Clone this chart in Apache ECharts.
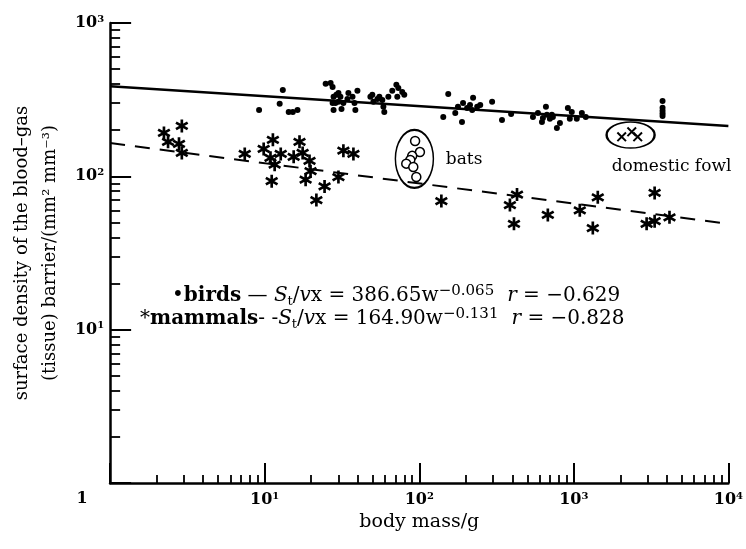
<!DOCTYPE html>
<html><head><meta charset="utf-8">
<script src="https://cdn.jsdelivr.net/npm/echarts@6/dist/echarts.min.js"></script>
<style>html,body{margin:0;padding:0;background:#fff}#c{width:746px;height:549px}</style>
</head><body><div id="c"></div>
<script>
// ---- data ----
const birdMass = [9.2,13.1,12.5,14.3,15.2,16.3,24.8,26.7,27.5,27.9,
  29.1,30.0,30.9,27.5,28.7,30.0,32.3,34.3,34.8,37.0,
  38.1,39.8,38.6,27.9,31.4,49.7,50.5,53.6,55.2,57.7,
  58.6,59.4,63.1,66.9,71.1,73.2,77.6,80.0,72.1,48.3,
  154,143,171,178,192,189,204,213,220,237,
  248,223,296,343,393,544,586,622,631,660,
  670,700,732,777,813,721,915,970,942,1045,
  1127,1195,3750,3750,3750,3750,3750];
const birdDensity = [271,366,297,263,263,271,401,406,383,330,
  340,350,330,301,301,306,301,320,350,330,
  301,361,271,271,275,340,306,320,330,315,
  284,263,330,361,395,377,355,340,330,330,
  344,244,259,284,301,226,279,292,271,284,
  292,325,306,233,255,244,259,226,240,284,
  252,237,244,207,223,252,279,263,237,237,
  259,244,310,280,268,257,247];
const mammalMass = [2.23,2.37,2.91,2.79,2.91,7.43,9.85,11.3,10.9,11.6,
  12.7,11.1,15.4,16.8,17.6,19.5,19.8,18.4,21.6,24.4,
  30.0,32.3,37.5,139,386,429,410,679,1093,1429,
  1327,3333,2958,3333,4159];
const mammalDensity = [192,168,213,163,142,140,151,173,132,119,
  140,93,134,168,142,126,108,95,70,86,
  99,147,140,69,65,76,49,56,60,73,
  46,78,49,51,54];
const batMass = [94,101,90,87.5,82.4,91.5,95.7];
const batDensity = [170,144,136,128,121,115,99];
const fowlMass = [2040,2370,2590];
const fowlDensity = [181,195,181];
const birdFitMass = [1,10000];
const birdFitDensity = [387,213];
const mammalFitMass = [1,10000];
const mammalFitDensity = [165,49];
const groupNames = ['bats','domestic fowl'];
const groupCenterMass = [93,2330];
const groupCenterDensity = [130,186];
const groupLabelMass = [195,4285];
const groupLabelDensity = [128,115];
const xTickValues = [1,10,100,1000,10000];
const xTickExps = ['', '1','2','3','4'];
const yTickValues = [10,100,1000];
const yTickExps = ['1','2','3'];

// ---- chart ----
const FONT = 'DejaVu Serif';
const zip = (a,b)=>a.map((v,i)=>[v,b[i]]);
const asterisk = 'path://M-0.2,-1L0.2,-1L0.2,1L-0.2,1Z M0.773,-0.673L0.973,-0.327L-0.773,0.673L-0.973,0.327Z M0.973,0.327L0.773,0.673L-0.973,-0.327L-0.773,-0.673Z';
const cross = 'path://M-1,-0.72L-0.72,-1L1,0.72L0.72,1Z M0.72,-1L1,-0.72L-0.72,1L-1,0.72Z';
const tickRich = {
  b:{fontFamily:FONT,fontWeight:'bold',fontSize:16,color:'#000',lineHeight:18},
  s:{fontFamily:FONT,fontWeight:'bold',fontSize:10,color:'#000',verticalAlign:'top',lineHeight:10},
  one:{fontFamily:FONT,fontWeight:'bold',fontSize:16,color:'#000',padding:[0,56,0,0]}
};
const eqRich = {
  n:{fontFamily:FONT,fontSize:20,fill:'#000',lineHeight:24},
  bb:{fontFamily:FONT,fontSize:20,fontWeight:'bold',fill:'#000',lineHeight:24},
  i:{fontFamily:FONT,fontSize:20,fontStyle:'italic',fill:'#000',lineHeight:24},
  sub:{fontFamily:FONT,fontSize:13,fill:'#000',verticalAlign:'bottom',lineHeight:13},
  sup:{fontFamily:FONT,fontSize:15,fill:'#000',verticalAlign:'top',lineHeight:14},
  gap:{fontFamily:FONT,fontSize:20,fill:'#000',lineHeight:24,width:13}
};
const chart = echarts.init(document.getElementById('c'), null, {renderer:'canvas'});
const option = {
  animation:false,
  backgroundColor:'#fff',
  grid:{left:109,right:17,top:23,bottom:66},
  xAxis:{type:'log',logBase:10,min:1,max:10000,
    name:'body mass/g',nameLocation:'middle',nameGap:27,
    nameTextStyle:{fontFamily:FONT,fontSize:19,color:'#000'},
    axisLine:{lineStyle:{color:'#000',width:2.5}},
    axisTick:{show:true,inside:true,length:20,lineStyle:{color:'#000',width:2}},
    minorTick:{show:true,splitNumber:9,length:8,lineStyle:{color:'#000',width:1.8}},
    splitLine:{show:false},
    axisLabel:{margin:8,formatter:v=>{const i=xTickValues.indexOf(v); if(i<0) return ''; return i===0?'{one|1}':'{b|10}{s|'+xTickExps[i]+'}';},rich:tickRich}
  },
  yAxis:{type:'log',logBase:10,min:1,max:1000,
    name:'surface density of the blood–gas\n(tissue) barrier/(mm² mm⁻³)',nameLocation:'middle',nameGap:44,
    nameTextStyle:{fontFamily:FONT,fontSize:18,color:'#000',lineHeight:28},
    axisLine:{lineStyle:{color:'#000',width:2.5}},
    axisTick:{show:true,inside:true,length:21,lineStyle:{color:'#000',width:2}},
    minorTick:{show:true,splitNumber:9,length:10,lineStyle:{color:'#000',width:1.8}},
    splitLine:{show:false},
    axisLabel:{margin:6,formatter:v=>{const i=yTickValues.indexOf(v); if(i<0) return ''; return '{b|10}{s|'+yTickExps[i]+'}';},rich:tickRich}
  },
  series:[
    {type:'line',data:zip(birdFitMass,birdFitDensity),showSymbol:false,symbol:'none',lineStyle:{color:'#000',width:2.5},z:2},
    {type:'line',data:zip(mammalFitMass,mammalFitDensity),showSymbol:false,symbol:'none',lineStyle:{color:'#000',width:2,type:[15,10]},z:2},
    {type:'scatter',data:zip(birdMass,birdDensity),symbol:'circle',symbolSize:6,itemStyle:{color:'#000',opacity:1},z:3},
    {type:'scatter',data:zip(mammalMass,mammalDensity),symbol:asterisk,symbolSize:13,itemStyle:{color:'#000',opacity:1},z:3},
    {type:'scatter',data:zip(batMass,batDensity),symbol:'circle',symbolSize:9,itemStyle:{color:'#fff',borderColor:'#000',borderWidth:1.5,opacity:1},z:4},
    {type:'scatter',data:zip(fowlMass,fowlDensity),symbol:cross,symbolSize:10,itemStyle:{color:'#000',opacity:1},z:4},
    {type:'scatter',data:groupCenterMass.map((m,i)=>({value:[m,groupCenterDensity[i]],symbolSize:i===0?[38,58]:[48,26]})),
      symbol:'circle',itemStyle:{color:'rgba(0,0,0,0)',borderColor:'#000',borderWidth:1.8,opacity:1},z:3},
    {type:'scatter',data:groupLabelMass.map((m,i)=>({value:[m,groupLabelDensity[i]],name:groupNames[i]})),
      symbolSize:0,itemStyle:{opacity:1},
      label:{show:true,position:'inside',formatter:'{b}',fontFamily:FONT,fontSize:17,color:'#000',textBorderWidth:0,opacity:1},z:5}
  ],
  graphic:[
    {type:'text',left:172,top:284,style:{
      text:'{n|•}{bb|birds}{n| — }{i|S}{sub|t}{n|/}{i|v}{n|x = 386.65w}{sup|−0.065}{gap| }{i|r}{n| = −0.629}',
      rich:eqRich}},
    {type:'text',left:140,top:307,style:{
      text:'{n|*}{bb|mammals}{n|- -}{i|S}{sub|t}{n|/}{i|v}{n|x = 164.90w}{sup|−0.131}{gap| }{i|r}{n| = −0.828}',
      rich:eqRich}}
  ]
};
chart.setOption(option);
</script>
</body></html>
